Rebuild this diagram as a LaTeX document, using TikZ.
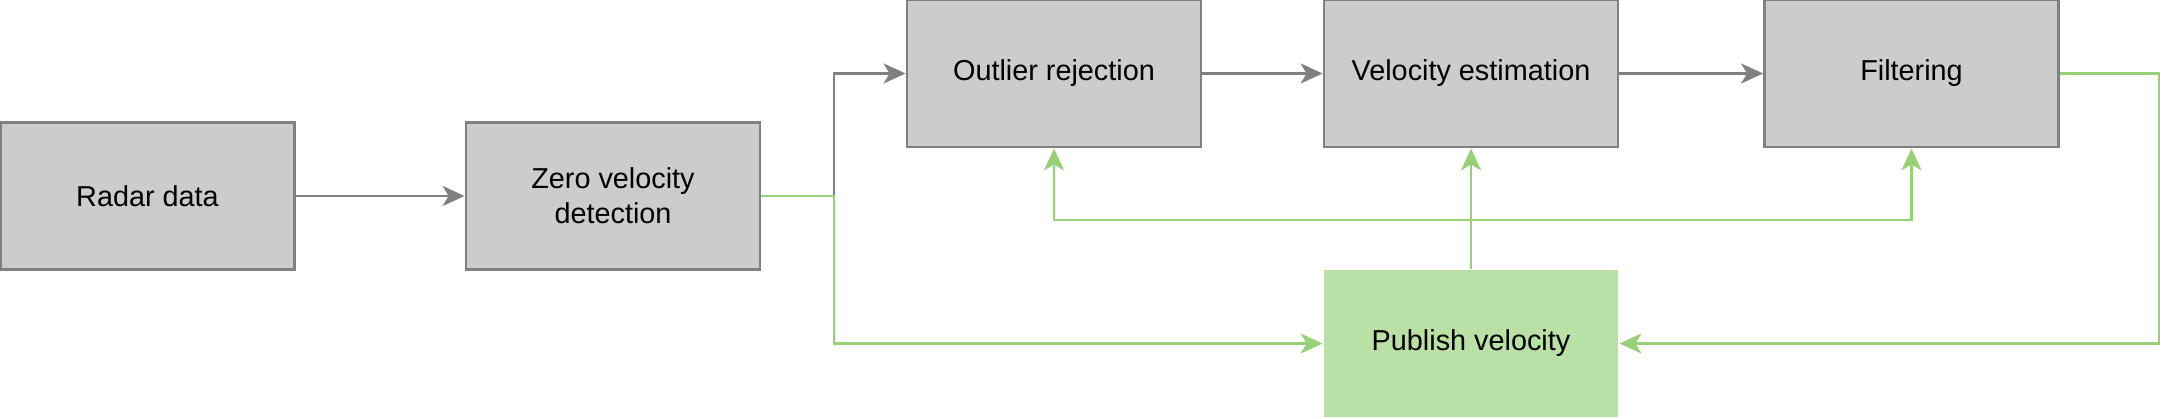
\documentclass[tikz,border=0pt]{standalone}
\usepackage{fontspec}
\setmainfont{Liberation Sans}
\usepackage{tikz}
\usetikzlibrary{calc,arrows.meta}
\definecolor{boxgray}{HTML}{CCCCCC}
\definecolor{edgegray}{HTML}{808080}
\definecolor{linegreen}{HTML}{97D077}
\definecolor{boxgreen}{HTML}{B9E0A5}
\tikzset{
	stage/.style={draw=edgegray, fill=boxgray, line width=0.8pt, minimum width=2.94cm, minimum height=1.47cm, inner sep=0pt, align=center, font=\fontsize{8.2}{9.9}\selectfont},
	pubstage/.style={stage, draw=none, fill=boxgreen},
	grayline/.style={draw=edgegray, line width=0.75pt, -{Stealth[length=2.2mm, width=2.0mm, inset=0.6mm]}},
	greenline/.style={draw=linegreen, line width=0.75pt, -{Stealth[length=2.2mm, width=2.0mm, inset=0.6mm, fill=linegreen]}}
}

\begin{document}
\begin{tikzpicture}
			%%%%% START %%%%%
			
			\useasboundingbox (0, 0) rectangle (21.79, -4.19);
			
			\node[stage] (radar) at (1.475, -1.96) {Radar data};
			\node[stage] (zero) at (6.13, -1.96) {Zero velocity\\detection};
			
			\node[stage] (outlier) at (10.54, -0.735) {Outlier rejection};
			\node[stage] (velest) at (14.71, -0.735) {Velocity estimation};
			\node[stage] (filter) at (19.115, -0.735) {Filtering};
			
			\node[pubstage] (publish) at (14.71, -3.435) {Publish velocity};
			
			\coordinate (split) at (8.34, -1.96);
			\coordinate (bus) at (14.71, -2.20);
			
			\draw[grayline] (radar) -- (zero);
			\draw[grayline] (zero.east) -- (split) |- (outlier.west);
			\draw[grayline] (outlier) -- (velest);
			\draw[grayline] (velest) -- (filter);
			
			\draw[greenline] (zero.east) -- (split) |- (publish.west);
			\draw[greenline] (publish.north) -- (velest.south);
			\draw[greenline] (bus) -| (outlier.south);
			\draw[greenline] (bus) -| (filter.south);
			\draw[greenline] (filter.east) -- ++(0.99, 0) |- (publish.east);
			
			%%%%% END %%%%%
\end{tikzpicture}
\end{document}
